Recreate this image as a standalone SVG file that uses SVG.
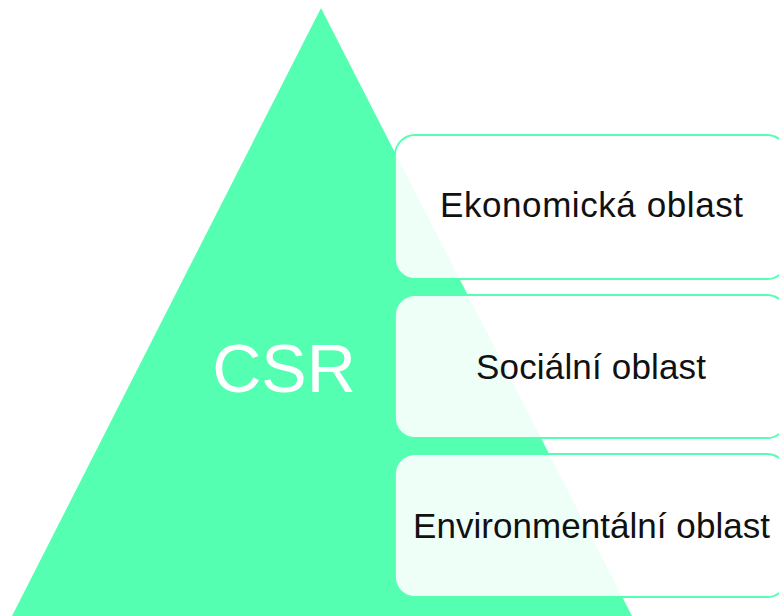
<svg xmlns="http://www.w3.org/2000/svg" width="779" height="616" viewBox="0 0 779 616">
  <style>
    .box { fill: #ffffff; fill-opacity: 0.9; stroke: #55FFB2; stroke-width: 1.8; }
    .lbl { font-family: "Liberation Sans", Arial, sans-serif; font-size: 35px; fill: #111111; text-anchor: middle; }
    .csr { font-family: "Liberation Sans", Arial, sans-serif; font-size: 68px; fill: #ffffff; text-anchor: middle; }
  </style>
  <rect width="779" height="616" fill="#ffffff"/>
  <g id="pyramid">
    <polygon points="321,8 12,616 632,616" fill="#55FFB2"/>
    <text class="csr" x="284" y="392">CSR</text>
  </g>
  <g id="connectors"></g>
  <g id="ekonomicka">
    <rect class="box" x="395" y="135" width="392" height="144" rx="20" ry="20"/>
    <text class="lbl" x="591.5" y="217" textLength="303" lengthAdjust="spacing">Ekonomická oblast</text>
  </g>
  <g id="socialni">
    <rect class="box" x="395" y="295" width="392" height="143" rx="20" ry="20"/>
    <text class="lbl" x="591" y="379" textLength="230" lengthAdjust="spacing">Sociální oblast</text>
  </g>
  <g id="environmentalni">
    <rect class="box" x="395" y="454" width="392" height="143" rx="20" ry="20"/>
    <text class="lbl" x="591.5" y="538" textLength="357" lengthAdjust="spacing">Environmentální oblast</text>
  </g>
</svg>
